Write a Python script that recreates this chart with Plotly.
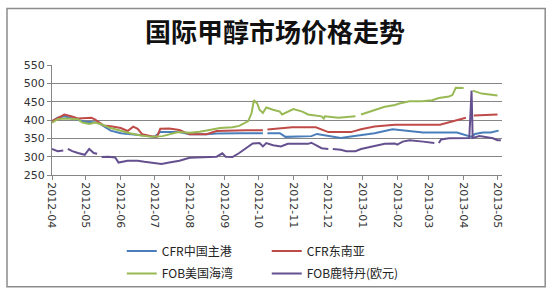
import plotly.graph_objects as go

title_text = "国际甲醇市场价格走势"
series_names = ["CFR中国主港", "CFR东南亚", "FOB美国海湾", "FOB鹿特丹(欧元)"]
series_colors = ["#4A7EBB", "#BE4B48", "#98B954", "#65508F"]

cfr_china_dates = ["2012-04-01", "2012-04-06", "2012-04-12", "2012-04-24", "2012-04-30", "2012-05-12",
                   "2012-05-23", "2012-06-01", "2012-06-10", "2012-06-22", "2012-07-01", "2012-07-06",
                   "2012-07-23", "2012-08-01", "2012-08-16", "2012-08-25", "2012-09-15", "2012-10-05",
                   "2012-10-07", "2012-10-09", "2012-10-20", "2012-10-25", "2012-11-17", "2012-11-22",
                   "2012-12-01", "2012-12-13", "2012-12-22", "2012-12-31", "2013-01-12", "2013-01-28",
                   "2013-02-13", "2013-02-24", "2013-03-26", "2013-04-01", "2013-04-08", "2013-04-11",
                   "2013-04-18", "2013-04-25", "2013-05-02"]
cfr_china_vals = [396, 406, 410, 400, 395, 393,
                  371, 364, 362, 358, 354, 367,
                  367, 361, 361, 363, 364, 364,
                  None, 364, 364, 354, 356, 362,
                  358, 351, 355, 358, 364, 375,
                  369, 366, 366, 361, 354, 362,
                  366, 366, 371]

cfr_sea_dates = ["2012-04-01", "2012-04-06", "2012-04-12", "2012-04-18", "2012-04-24", "2012-05-06",
                 "2012-05-09", "2012-05-13", "2012-05-17", "2012-05-23", "2012-06-01", "2012-06-07",
                 "2012-06-12", "2012-06-16", "2012-06-20", "2012-06-28", "2012-07-03", "2012-07-06",
                 "2012-07-14", "2012-07-23", "2012-08-01", "2012-08-16", "2012-08-25", "2012-09-20",
                 "2012-10-05", "2012-10-07", "2012-10-09", "2012-10-20", "2012-10-31", "2012-11-21",
                 "2012-12-02", "2012-12-22", "2012-12-31", "2013-01-12", "2013-01-30", "2013-03-11",
                 "2013-03-22", "2013-04-03", "2013-04-06", "2013-04-10", "2013-05-01"]
cfr_sea_vals = [397, 406, 415, 410, 404, 406,
                402, 393, 385, 383, 378, 370,
                382, 376, 361, 356, 354, 376,
                377, 373, 361, 361, 370, 372,
                372, None, 374, 377, 380, 380,
                367, 367, 375, 382, 387, 387,
                397, 406, None, 412, 415]

fob_us_dates = ["2012-04-01", "2012-04-06", "2012-04-12", "2012-04-24", "2012-04-28", "2012-05-04",
                "2012-05-09", "2012-05-14", "2012-05-23", "2012-06-01", "2012-06-10", "2012-06-19",
                "2012-06-29", "2012-07-08", "2012-07-22", "2012-08-01", "2012-08-10", "2012-08-28",
                "2012-09-08", "2012-09-14", "2012-09-22", "2012-09-25", "2012-09-27", "2012-09-30",
                "2012-10-02", "2012-10-05", "2012-10-08", "2012-10-14", "2012-10-20", "2012-10-22",
                "2012-10-28", "2012-11-01", "2012-11-09", "2012-11-14", "2012-11-26", "2012-11-28",
                "2012-11-29", "2012-12-11", "2012-12-26", "2012-12-28", "2012-12-31", "2013-01-12",
                "2013-01-21", "2013-01-30", "2013-02-03", "2013-02-12", "2013-02-23", "2013-03-04",
                "2013-03-10", "2013-03-19", "2013-03-22", "2013-03-25", "2013-04-01", "2013-04-05",
                "2013-04-09", "2013-04-17", "2013-05-01"]
fob_us_vals = [393, 402, 404, 402, 393, 389,
               393, 389, 378, 370, 363, 358,
               354, 356, 367, 365, 368, 378,
               380, 384, 397, 419, 454, 445,
               428, 419, 434, 428, 423, 415,
               425, 430, 423, 415, 410, 404,
               410, 406, 410, None, 415, 428,
               436, 441, 445, 451, 451, 454,
               460, 464, 468, 488, 487, None,
               480, 472, 467]

fob_rtm_dates = ["2012-04-01", "2012-04-06", "2012-04-11", "2012-04-13", "2012-04-15", "2012-04-19",
                 "2012-04-24", "2012-04-30", "2012-05-04", "2012-05-08", "2012-05-11", "2012-05-13",
                 "2012-05-15", "2012-05-21", "2012-05-27", "2012-05-30", "2012-06-07", "2012-06-16",
                 "2012-06-22", "2012-07-01", "2012-07-07", "2012-07-14", "2012-07-23", "2012-08-01",
                 "2012-08-10", "2012-08-19", "2012-08-25", "2012-08-30", "2012-09-02", "2012-09-08",
                 "2012-09-14", "2012-09-20", "2012-09-26", "2012-10-02", "2012-10-05", "2012-10-08",
                 "2012-10-14", "2012-10-21", "2012-10-27", "2012-11-08", "2012-11-14", "2012-11-17",
                 "2012-11-22", "2012-11-26", "2012-12-02", "2012-12-04", "2012-12-06", "2012-12-13",
                 "2012-12-18", "2012-12-26", "2012-12-31", "2013-01-12", "2013-01-21", "2013-01-30",
                 "2013-02-01", "2013-02-06", "2013-02-12", "2013-02-24", "2013-03-06", "2013-03-08",
                 "2013-03-10", "2013-03-12", "2013-03-19", "2013-04-06", "2013-04-08", "2013-04-09",
                 "2013-04-15", "2013-04-21", "2013-04-27", "2013-05-01", "2013-05-04"]
fob_rtm_vals = [321, 315, 317, None, 321, 315,
                310, 305, 321, 310, 308, None,
                299, 300, 298, 284, 289, 289,
                286, 283, 280, 284, 289, 297,
                299, 299, 300, 309, 300, 299,
                310, 323, 336, 337, 328, 337,
                331, 328, 335, 335, 335, 338,
                330, 323, 321, None, 321, 319,
                315, 315, 321, 328, 335, 336,
                333, 341, 345, 341, 337, None,
                337, 347, 350, 351, 480, 351,
                356, 354, 350, 345, 345]

x_range = ["2012-04-01", "2013-05-05"]
y_range = [250, 550]
y_ticks = [250, 300, 350, 400, 450, 500, 550]

all_dates = [cfr_china_dates, cfr_sea_dates, fob_us_dates, fob_rtm_dates]
all_vals = [cfr_china_vals, cfr_sea_vals, fob_us_vals, fob_rtm_vals]
legend_ids = ["legend", "legend", "legend2", "legend2"]

fig = go.Figure()
for name, color, xs, ys, lg in zip(series_names, series_colors, all_dates, all_vals, legend_ids):
    fig.add_trace(go.Scatter(
        x=xs, y=ys, name=name, mode="lines",
        line=dict(color=color, width=2),
        connectgaps=False, legend=lg,
    ))

axis_font = dict(family="DejaVu Sans, Verdana, sans-serif", size=11, color="#333333")
legend_font = dict(family="Noto Sans CJK SC, sans-serif", size=12, color="#222222")

fig.update_layout(
    width=550, height=300,
    margin=dict(l=52, r=48, t=65, b=120),
    paper_bgcolor="white", plot_bgcolor="white",
    title=dict(text=title_text, x=0.5, xanchor="center", y=0.89, yanchor="middle",
               font=dict(family="Noto Sans CJK SC, sans-serif", size=26, color="#111111",
                         weight="bold")),
    xaxis=dict(type="date", range=x_range, dtick="M1", tick0="2012-04-01",
               tickformat="%Y-%m", tickangle=90, ticks="outside", ticklen=4,
               tickcolor="#868686", showgrid=False, showline=True, linecolor="#868686",
               linewidth=1, tickfont=axis_font, zeroline=False),
    yaxis=dict(range=y_range, tickvals=y_ticks, ticks="outside", ticklen=4,
               tickcolor="#868686", showgrid=True, gridcolor="#868686", gridwidth=1,
               showline=True, linecolor="#868686", linewidth=1, tickfont=axis_font,
               zeroline=False),
    legend=dict(orientation="h", x=0.155, xanchor="left", y=-0.69, yanchor="middle",
                font=legend_font, entrywidth=100, bgcolor="rgba(0,0,0,0)", itemwidth=30),
    legend2=dict(orientation="h", x=0.155, xanchor="left", y=-0.895, yanchor="middle",
                 font=legend_font, entrywidth=100, bgcolor="rgba(0,0,0,0)", itemwidth=30),
    showlegend=True,
    shapes=[dict(type="rect", xref="paper", yref="paper",
                 x0=-0.1, x1=1.096, y0=-1.017, y1=1.513,
                 line=dict(color="#8c8c8c", width=1.5), fillcolor="rgba(0,0,0,0)",
                 layer="below")],
)

fig.write_html("out.html")
